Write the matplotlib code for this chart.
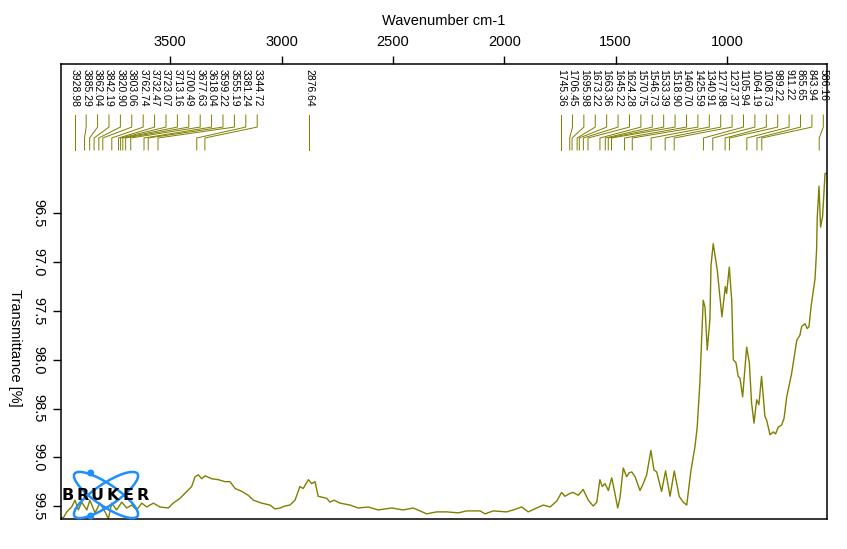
import matplotlib
matplotlib.use("Agg")
import matplotlib.pyplot as plt
import matplotlib.transforms as mtransforms
from matplotlib.patches import Ellipse, Circle

plt.rcParams['font.family'] = ['Liberation Sans', 'DejaVu Sans']

# spectrum (wavenumber cm-1, transmittance %)
wavenumber = [
    3995, 3980, 3965, 3943, 3928, 3913, 3898, 3875, 3861, 3838, 3816, 3793,
    3778, 3763, 3741, 3718, 3696, 3673, 3651, 3628, 3606, 3576, 3546, 3509,
    3487, 3456, 3426, 3404, 3389, 3374, 3359, 3344, 3314, 3284, 3254, 3232,
    3209, 3179, 3150, 3127, 3090, 3052, 3030, 3007, 2985, 2963, 2940, 2918,
    2903, 2880, 2865, 2850, 2836, 2798, 2783, 2765, 2738, 2693, 2656, 2611,
    2566, 2506, 2454, 2409, 2349, 2304, 2259, 2207, 2169, 2109, 2087, 2050,
    1990, 1960, 1922, 1893, 1855, 1825, 1795, 1765, 1743, 1728, 1705, 1691,
    1668, 1646, 1623, 1601, 1585, 1571, 1560, 1548, 1533, 1518, 1506, 1491,
    1481, 1466, 1451, 1440, 1428, 1413, 1391, 1376, 1361, 1342, 1328, 1316,
    1294, 1276, 1256, 1237, 1215, 1197, 1181, 1163, 1144, 1134, 1122, 1107,
    1099, 1089, 1077, 1072, 1062, 1044, 1023, 1008, 1002, 990, 979, 972,
    960, 950, 942, 930, 912, 900, 890, 879, 867, 857, 845, 830,
    822, 807, 793, 782, 770, 755, 744, 732, 710, 687, 673, 665,
    650, 640, 632, 623, 605, 598, 595, 587, 580, 571, 560, 551,
]
transmittance = [
    99.61, 99.62, 99.56, 99.51, 99.44, 99.54, 99.46, 99.54, 99.44, 99.57, 99.47, 99.56,
    99.63, 99.47, 99.54, 99.46, 99.52, 99.49, 99.54, 99.47, 99.51, 99.47, 99.51, 99.52,
    99.47, 99.42, 99.35, 99.30, 99.20, 99.18, 99.22, 99.19, 99.22, 99.23, 99.25, 99.25,
    99.32, 99.35, 99.39, 99.44, 99.47, 99.49, 99.53, 99.52, 99.50, 99.49, 99.44, 99.30,
    99.32, 99.23, 99.27, 99.25, 99.40, 99.42, 99.46, 99.44, 99.47, 99.49, 99.52, 99.51,
    99.54, 99.52, 99.54, 99.52, 99.58, 99.56, 99.56, 99.57, 99.55, 99.55, 99.58, 99.55,
    99.56, 99.54, 99.51, 99.56, 99.52, 99.49, 99.51, 99.45, 99.36, 99.40, 99.37, 99.36,
    99.39, 99.33, 99.44, 99.50, 99.46, 99.23, 99.30, 99.27, 99.34, 99.21, 99.34, 99.52,
    99.42, 99.11, 99.20, 99.16, 99.15, 99.20, 99.34, 99.27, 99.18, 98.93, 99.13, 99.15,
    99.35, 99.14, 99.40, 99.14, 99.40, 99.46, 99.49, 99.15, 98.89, 98.69, 98.24, 97.39,
    97.46, 97.90, 97.59, 97.03, 96.81, 97.08, 97.56, 97.25, 97.32, 97.05, 97.39, 98.00,
    98.03, 98.17, 98.19, 98.38, 97.87, 98.03, 98.44, 98.65, 98.41, 98.46, 98.17, 98.58,
    98.62, 98.77, 98.74, 98.76, 98.69, 98.67, 98.60, 98.38, 98.14, 97.80, 97.75, 97.66,
    97.63, 97.68, 97.66, 97.46, 97.17, 96.88, 96.54, 96.22, 96.64, 96.53, 96.09, 96.09,
]

# peak picks printed above the spectrum
peaks = [
    3928.98, 3885.29, 3862.04, 3842.19, 3820.90, 3803.06, 3762.74, 3732.47,
    3723.07, 3713.16, 3700.49, 3677.63, 3618.04, 3599.22, 3555.19, 3381.24,
    3344.72, 2876.64,
    1745.36, 1706.45, 1695.98, 1673.22, 1663.36, 1645.22, 1624.28, 1570.75,
    1546.73, 1533.39, 1518.90, 1460.70, 1425.59, 1340.91, 1277.98, 1237.37,
    1105.94, 1064.19, 1008.73, 989.22, 911.22, 865.65, 843.94, 586.16,
]

x_ticks = [3500, 3000, 2500, 2000, 1500, 1000]
y_ticks = [96.5, 97.0, 97.5, 98.0, 98.5, 99.0, 99.5]

olive = '#7f7f00'

fig = plt.figure(figsize=(8.47, 5.49), dpi=100)
ax = fig.add_axes([0.0717, 0.0541, 0.9050, 0.8288])
ax.plot(wavenumber, transmittance, color=olive, lw=1.0)

ax.set_xlim(3992, 550)
ax.set_ylim(99.636, 94.97)   # picture is shown upside down

ax.xaxis.tick_top()
ax.xaxis.set_label_position('top')
ax.set_xticks(x_ticks)
ax.set_yticks(y_ticks)
ax.set_yticklabels([f"{v:.1f}" for v in y_ticks], rotation=270, va='center')
ax.tick_params(direction='out', length=6, width=1, labelsize=10.5, pad=5)
for s in ax.spines.values():
    s.set_linewidth(1.1)

ax.set_xlabel('Wavenumber cm-1', fontsize=10.5, labelpad=7)
ax.set_ylabel('Transmittance [%]', fontsize=10.5, rotation=270, va='center')
ax.yaxis.set_label_coords(-0.060, 0.3765)

# peak labels: spread apart, then connected back to the peak
trans = mtransforms.blended_transform_factory(ax.transData, ax.transAxes)
gap = 51.2
prev = None
for p in peaks:
    pos = p if prev is None else min(p, prev - gap)
    if prev is not None and prev - p > 300:
        pos = p
    prev = pos
    ax.text(pos, 0.989, f"{p:.2f}", rotation=270, va='top', ha='center',
            fontsize=7.5, transform=trans)
    ax.plot([pos, pos, p, p], [0.8886, 0.862, 0.838, 0.8117],
            color=olive, lw=0.7, transform=trans, clip_on=False)

# Bruker logo in the corner
logo = fig.add_axes([55 / 847, 1 - 522 / 549, 100 / 847, 57 / 549])
logo.set_xlim(0, 100)
logo.set_ylim(57, 0)
logo.axis('off')
blue = '#1e8fff'
for ang in (34, -34):
    logo.add_patch(Ellipse((51, 30), 76, 22, angle=ang, fill=False,
                           ec=blue, lw=1.8))
logo.add_patch(Circle((35.7, 8), 2.8, color=blue))
logo.add_patch(Circle((35.7, 51), 2.8, color=blue))
for i, ch in enumerate('BRUKER'):
    logo.text(12.5 + 15 * i, 30, ch, ha='center', va='center', fontsize=11.5,
              fontweight='heavy', family='DejaVu Sans', color='black')

fig.savefig('out.png', dpi=100)
